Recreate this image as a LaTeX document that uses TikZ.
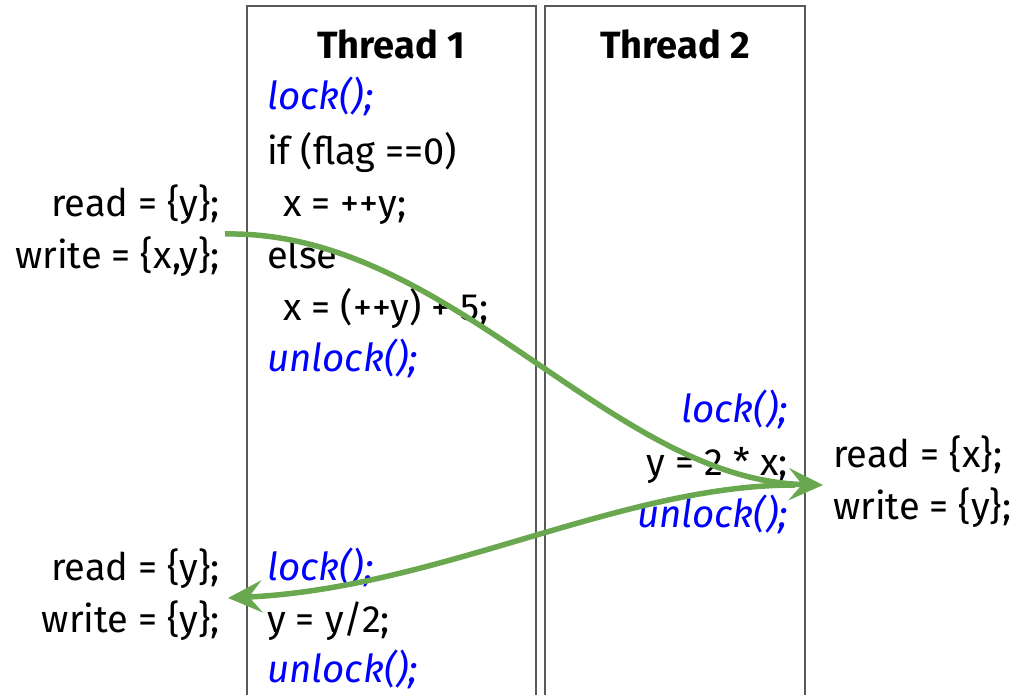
\documentclass[tikz,border=0pt]{standalone}
\usepackage{fontspec}
\setmainfont{Fira Sans}
\usetikzlibrary{arrows.meta}
\definecolor{grn}{HTML}{6AA84F}
\definecolor{blu}{HTML}{0000FF}
\definecolor{frame}{HTML}{595959}
\tikzset{
  txt/.style={inner sep=0pt, font=\fontsize{38}{44}\selectfont},
  code/.style={txt, anchor=base west},
  codeR/.style={txt, anchor=base east},
  kw/.style={txt, text=blu, font=\fontsize{38.5}{44}\selectfont\itshape},
  head/.style={txt, anchor=base, font=\fontsize{38}{44}\selectfont\bfseries},
  threadbox/.style={draw=frame, line width=1.5pt},
  flow/.style={draw=grn, line width=5.5pt, -{Stealth[length=34pt,width=32pt,inset=13pt]}}
}
\begin{document}
\begin{tikzpicture}[x=1pt,y=-1pt]
\useasboundingbox (0,0) rectangle (1013,695);
% thread boxes (open at bottom)
\draw[threadbox] (247,700) -- (247,6) -- (536,6) -- (536,700);
\draw[threadbox] (545,700) -- (545,6) -- (805,6) -- (805,700);
% headings
\node[head] (h1) at (391,59) {Thread 1};
\node[head] (h2) at (675,59) {Thread 2};
% thread 1
\node[kw, anchor=base west] (l1) at (267,110) {lock();};
\node[code] (c1) at (267,165) {if (flag ==0)};
\node[code] (c2) at (283,217) {x = ++y;};
\node[code] (c3) at (267,269) {else};
\node[code] (c4) at (283,321) {x = (++y) + 5;};
\node[kw, anchor=base west] (u1) at (267,371) {unlock();};
% thread 2
\node[kw, anchor=base east] (l2) at (788,422) {lock();};
\node[codeR] (c5) at (788,475) {y = 2 * x;};
\node[kw, anchor=base east] (u2) at (788,527) {unlock();};
% thread 1 bottom
\node[kw, anchor=base west] (l3) at (267,580) {lock();};
\node[code] (c6) at (267,632) {y = y/2;};
\node[kw, anchor=base west] (u3) at (267,682) {unlock();};
% left labels
\node[codeR] (r1) at (220,217) {read = \{y\};};
\node[codeR] (w1) at (220,269) {write = \{x,y\};};
\node[codeR] (r3) at (220,580) {read = \{y\};};
\node[codeR] (w3) at (220,632) {write = \{y\};};
% right labels
\node[code] (r2) at (833,467) {read = \{x\};};
\node[code] (w2) at (833,519) {write = \{y\};};
% connector endpoints
\coordinate (s1) at (225,234);
\coordinate (e1) at (823,485);
\coordinate (s2) at (795,485);
\coordinate (e2) at (228,598);
\path[flow] (s1) .. controls (450,230) and (610,480) .. (e1);
\path[flow] (s2) .. controls (620,485) and (440,588) .. (e2);
\end{tikzpicture}
\end{document}
